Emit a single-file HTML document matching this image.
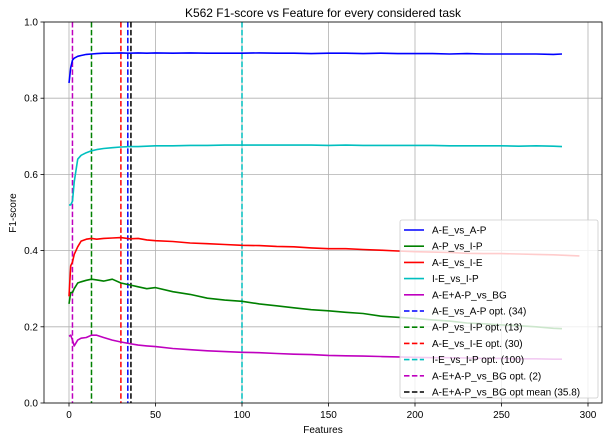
<!DOCTYPE html>
<html><head><meta charset="utf-8"><style>
body{margin:0;background:#fff;}
svg{display:block;font-family:"Liberation Sans","DejaVu Sans",sans-serif;}
</style></head><body>
<svg id="chart" width="612" height="441" viewBox="0 0 612 441" xmlns="http://www.w3.org/2000/svg">
<rect width="612" height="441" fill="#fff"/>
<g id="grid"></g><g id="vlines"></g><g id="series"></g><g id="axes"></g><g id="legend"></g>
</svg>
<script>
const xs=[0,1,2,3,5,7,10,13,16,20,25,30,35,40,45,50,60,70,80,90,100,110,120,130,140,150,160,170,180,190,200,210,220,230,240,250,260,270,280,285];
const xsRed=xs.concat([290,295]);
const blueVals=[0.84,0.88,0.90,0.905,0.91,0.912,0.915,0.916,0.917,0.918,0.918,0.919,0.918,0.919,0.918,0.919,0.918,0.919,0.918,0.918,0.918,0.919,0.918,0.918,0.917,0.918,0.918,0.917,0.918,0.917,0.917,0.917,0.916,0.917,0.916,0.916,0.916,0.916,0.915,0.916];
const cyanVals=[0.52,0.52,0.53,0.58,0.64,0.65,0.657,0.662,0.665,0.668,0.67,0.672,0.673,0.673,0.674,0.675,0.675,0.676,0.676,0.677,0.677,0.677,0.677,0.677,0.677,0.676,0.677,0.676,0.676,0.676,0.676,0.676,0.675,0.675,0.675,0.675,0.674,0.675,0.674,0.673];
const redVals=[0.28,0.36,0.37,0.39,0.41,0.425,0.43,0.432,0.43,0.432,0.433,0.434,0.431,0.432,0.428,0.426,0.424,0.42,0.418,0.416,0.414,0.413,0.411,0.41,0.407,0.405,0.405,0.403,0.401,0.399,0.397,0.396,0.395,0.393,0.392,0.392,0.391,0.39,0.389,0.388,0.387,0.386];
const greenVals=[0.26,0.29,0.29,0.30,0.315,0.318,0.322,0.325,0.323,0.32,0.325,0.315,0.31,0.305,0.30,0.303,0.292,0.285,0.275,0.27,0.267,0.26,0.255,0.25,0.245,0.242,0.238,0.235,0.228,0.225,0.222,0.218,0.215,0.21,0.208,0.205,0.203,0.2,0.196,0.195];
const magentaVals=[0.175,0.178,0.165,0.15,0.165,0.17,0.172,0.178,0.178,0.172,0.165,0.16,0.156,0.152,0.15,0.148,0.143,0.14,0.137,0.135,0.133,0.132,0.13,0.128,0.127,0.125,0.124,0.123,0.122,0.121,0.12,0.119,0.119,0.118,0.117,0.117,0.116,0.116,0.115,0.115];
const optValues=[34,13,30,100,2,35.8];
const xTicks=[0,50,100,150,200,250,300];
const yTicks=[0,0.2,0.4,0.6,0.8,1.0];
const seriesNames=["A-E_vs_A-P","A-P_vs_I-P","A-E_vs_I-E","I-E_vs_I-P","A-E+A-P_vs_BG"];
const optNames=["A-E_vs_A-P opt. (34)","A-P_vs_I-P opt. (13)","A-E_vs_I-E opt. (30)","I-E_vs_I-P opt. (100)","A-E+A-P_vs_BG opt. (2)","A-E+A-P_vs_BG opt mean (35.8)"];

const NS="http://www.w3.org/2000/svg";
const L=44,R=602,T=22,B=403;
const X=v=>69+v*(588-69)/300;
const Y=v=>B-v*(B-T);
function mk(tag,attrs,parent){const e=document.createElementNS(NS,tag);for(const k in attrs)e.setAttribute(k,attrs[k]);parent.appendChild(e);return e;}
const svg=document.getElementById('chart');
const grid=document.getElementById('grid'),vl=document.getElementById('vlines'),se=document.getElementById('series'),ax=document.getElementById('axes'),lg=document.getElementById('legend');
const cols=['#0000ff','#008000','#ff0000','#00bfbf','#bf00bf'];
const optCols=['#0000ff','#008000','#ff0000','#00bfbf','#bf00bf','#000000'];

xTicks.forEach(t=>{
 const g=mk('line',{x1:X(t),x2:X(t),y1:T,y2:B,stroke:'#b0b0b0','stroke-width':0.8},grid);
 
 
 mk('line',{x1:X(t),x2:X(t),y1:B,y2:B+3.5,stroke:'#000','stroke-width':0.8},ax);
 const tx=mk('text',{x:X(t),y:B+15,'font-size':10,'text-anchor':'middle'},ax);tx.textContent=t;
 
 
});
yTicks.forEach(t=>{
 const g=mk('line',{x1:L,x2:R,y1:Y(t),y2:Y(t),stroke:'#b0b0b0','stroke-width':0.8},grid);
 
 
 mk('line',{x1:L-3.5,x2:L,y1:Y(t),y2:Y(t),stroke:'#000','stroke-width':0.8},ax);
 const tx=mk('text',{x:L-6,y:Y(t)+3.5,'font-size':10,'text-anchor':'end'},ax);tx.textContent=t.toFixed(1);
 
 
});
optValues.forEach((v,i)=>{
 const l=mk('line',{x1:X(v),x2:X(v),y1:T,y2:B,stroke:optCols[i],'stroke-width':1.5,'stroke-dasharray':'5.5,2.4'},vl);
 
 
});
const data=[[xs,blueVals],[xs,greenVals],[xsRed,redVals],[xs,cyanVals],[xs,magentaVals]];
data.forEach((d,i)=>{
 const pts=d[0].map((x,j)=>X(x).toFixed(1)+','+Y(d[1][j]).toFixed(1)).join(' ');
 const p=mk('polyline',{points:pts,fill:'none',stroke:cols[i],'stroke-width':1.6,'stroke-linejoin':'round'},se);
 
 
});
mk('rect',{x:L,y:T,width:R-L,height:B-T,fill:'none',stroke:'#000','stroke-width':0.8},ax);
const title=mk('text',{x:323,y:17,'font-size':12,'text-anchor':'middle'},ax);title.textContent='K562 F1-score vs Feature for every considered task';


const xl=mk('text',{x:323,y:433,'font-size':10,'text-anchor':'middle'},ax);xl.textContent='Features';


const yl=mk('text',{x:16,y:213,'font-size':10,'text-anchor':'middle',transform:'rotate(-90 16 213)'},ax);yl.textContent='F1-score';



const box=mk('rect',{x:400,y:220,width:198,height:178,rx:2,fill:'#fff','fill-opacity':0.8,stroke:'#ccc','stroke-width':0.8},lg);


const names=seriesNames.concat(optNames), lc=cols.concat(optCols);
names.forEach((n,i)=>{
 const y=230+i*16.2;
 const ln=mk('line',{x1:404,x2:424,y1:y,y2:y,stroke:lc[i],'stroke-width':1.6,'stroke-dasharray':i>=5?'5.5,2.4':'none'},lg);
 
 
 const t=mk('text',{x:432,y:y+3.5,'font-size':10},lg);t.textContent=n;
 
 
});
</script>
</body></html>
